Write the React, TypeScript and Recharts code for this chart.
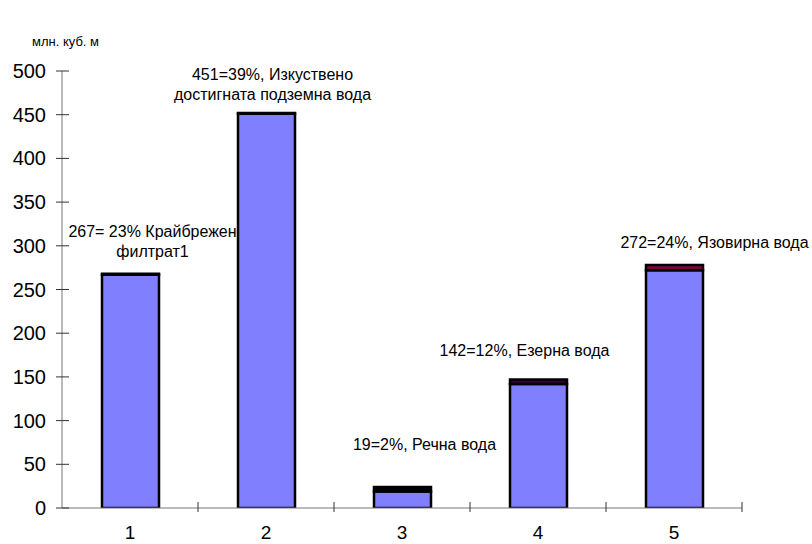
import React from 'react';
import { BarChart, Bar, XAxis, YAxis, Cell, LabelList } from 'recharts';

const categories = ['1', '2', '3', '4', '5'];
const mainValues = [267, 451, 19, 142, 272];
const topValues = [1, 1, 5, 5, 6];
const topColors = ['#000000', '#000000', '#000000', '#330033', '#800040'];
const yTicks = [0, 50, 100, 150, 200, 250, 300, 350, 400, 450, 500];
const labelLines = [
  ['267= 23% Крайбрежен', 'филтрат1'],
  ['451=39%, Изкуствено', 'достигната подземна вода'],
  ['19=2%, Речна вода'],
  ['142=12%, Езерна вода'],
  ['272=24%, Язовирна вода'],
];
const unitLabel = 'млн. куб. м';

// label placement relative to bar top centre (Excel-style manual labels)
const labelOffsets = [
  { dx: 22, dy: -37 },
  { dx: 6, dy: -33 },
  { dx: 22, dy: -37 },
  { dx: -14, dy: -24 },
  { dx: 40, dy: -17 },
];

const data = categories.map((c, i) => ({
  name: c,
  main: mainValues[i],
  top: topValues[i],
}));

const FONT = '"Liberation Sans", Arial, sans-serif';
const BAND_HALF = (742 - 62) / categories.length / 2;

const YTick = ({ x, y, payload }: any) => (
  <g>
    <line x1={x - 6} x2={x + 7} y1={y} y2={y} stroke="#333" strokeWidth={1} />
    <text x={x - 16} y={y + 7} textAnchor="end" fontSize={20} fontFamily={FONT} fill="#000">
      {payload.value}
    </text>
  </g>
);

const XTick = ({ x, y, payload }: any) => (
  <g>
    <line x1={x + BAND_HALF} x2={x + BAND_HALF} y1={y - 6} y2={y + 4} stroke="#333" strokeWidth={1} />
    <text x={x} y={y + 31} textAnchor="middle" fontSize={19} fontFamily={FONT} fill="#000">
      {payload.value}
    </text>
  </g>
);

const renderLabel = (props: any) => {
  const { x, y, width, index } = props;
  const lines = labelLines[index];
  const off = labelOffsets[index];
  const cx = x + width / 2 + off.dx;
  return (
    <g>
      {lines.map((t, k) => (
        <text
          key={k}
          x={cx}
          y={y + off.dy + k * 20}
          textAnchor="middle"
          fontSize={16}
          fontFamily={FONT}
          fill="#000"
        >
          {t}
        </text>
      ))}
    </g>
  );
};

export default function App() {
  return (
    <div style={{ position: 'absolute', left: 0, top: 0, width: 812, height: 544, background: '#fff' }}>
      <svg style={{ position: 'absolute', left: 0, top: 0 }} width={200} height={60}>
        <text x={32} y={46} fontSize={13} fontFamily={FONT} fill="#000">
          {unitLabel}
        </text>
      </svg>
      <BarChart
        width={812}
        height={544}
        data={data}
        margin={{ top: 71, right: 70, bottom: 0, left: 0 }}
        barSize={57}
      >
        <XAxis
          dataKey="name"
          height={36}
          tickSize={0}
          tickMargin={0}
          tick={<XTick />}
          axisLine={{ stroke: '#777', strokeWidth: 1 }}
          tickLine={false}
        />
        <YAxis
          width={62}
          domain={[0, 500]}
          ticks={yTicks}
          interval={0}
          tickSize={0}
          tickMargin={0}
          tick={<YTick />}
          axisLine={{ stroke: '#777', strokeWidth: 1 }}
          tickLine={false}
          allowDataOverflow
        />
        <Bar dataKey="main" stackId="a" fill="#8080FF" stroke="#000" strokeWidth={2.5} isAnimationActive={false} />
        <Bar dataKey="top" stackId="a" stroke="#000" strokeWidth={2.5} isAnimationActive={false}>
          {data.map((d, i) => (
            <Cell key={`c-${i}`} fill={topColors[i]} />
          ))}
          <LabelList dataKey="top" content={renderLabel} />
        </Bar>
      </BarChart>
    </div>
  );
}
